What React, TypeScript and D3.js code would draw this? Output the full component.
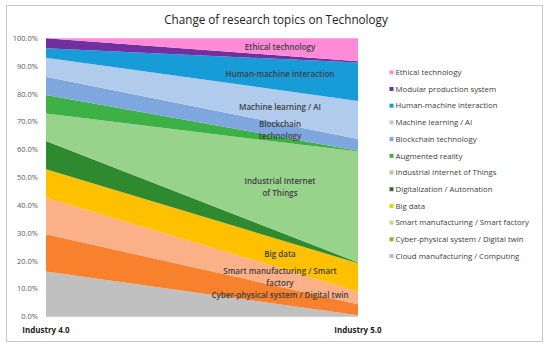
import React from 'react';
import * as d3 from 'd3';

// stages on the x axis
const stages = ['Industry 4.0', 'Industry 5.0'];

// series, bottom of the stack first
const topics = [
  'Cloud manufacturing / Computing',
  'Cyber-physical system / Digital twin',
  'Smart manufacturing / Smart factory',
  'Big data',
  'Digitalization / Automation',
  'Industrial Internet of Things',
  'Augmented reality',
  'Blockchain technology',
  'Machine learning / AI',
  'Human-machine interaction',
  'Modular production system',
  'Ethical technology',
];

// share (%) of each topic, same order as topics
const industry40 = [16.2, 13.4, 13.1, 10.3, 10.1, 9.9, 6.6, 6.6, 6.8, 3.4, 3.6, 0];
const industry50 = [0.5, 4.0, 4.5, 10.2, 0.3, 39.8, 0.3, 4.2, 13.7, 13.8, 0.5, 8.2];

const areaColors = ['#c0c0c0', '#f7812c', '#fbb088', '#ffc000', '#2f8a2f', '#98d38c', '#3db145', '#7ea7de', '#b0cbeb', '#179cd8', '#7030a0', '#ff8ad8'];
const legendColors = ['#bdbdbd', '#a9a52a', '#d8cc8e', '#d4dc00', '#3b6b2b', '#a8d19a', '#3db145', '#7ea7de', '#b0cbeb', '#179cd8', '#7030a0', '#ff8ad8'];

// in-chart labels (series index -> lines)
const areaLabels: [number, string[]][] = [
  [11, ['Ethical technology']],
  [9, ['Human-machine interaction']],
  [8, ['Machine learning / AI']],
  [7, ['Blockchain', 'technology']],
  [5, ['Industrial Internet', 'of Things']],
  [3, ['Big data']],
  [2, ['Smart manufacturing / Smart', 'factory']],
  [1, ['Cyber-physical system / Digital twin']],
];

const yTicks = d3.range(0, 101, 10);

const W = 550, H = 348;
const font = '"Open Sans", "Noto Sans", sans-serif';

export default function App() {
  const x = d3.scalePoint<string>().domain(stages).range([46, 358]);
  const y = d3.scaleLinear().domain([0, 100]).range([316.7, 38.3]);

  const rows = stages.map((s, i) => {
    const r: any = { stage: s };
    topics.forEach((t, k) => (r[t] = i === 0 ? industry40[k] : industry50[k]));
    return r;
  });
  const series = d3.stack<any>().keys(topics)(rows);

  const area = d3.area<any>()
    .x(d => x(d.data.stage)!)
    .y0(d => y(d[0]))
    .y1(d => y(d[1]));

  // labels sit at 3/4 of the way between the two stages
  const t = 0.75;
  const xl = x(stages[0])! + t * (x(stages[1])! - x(stages[0])!);

  return (
    <svg width={W} height={H} style={{ position: 'absolute', left: 0, top: 0, background: '#fff' }}>
      <rect x={6.5} y={5.5} width={536} height={336} fill="#fff" stroke="#c8c8c8" />
      <text x={276} y={24} textAnchor="middle" fontFamily={font} fontSize={11.7} fill="#222">
        Change of research topics on Technology
      </text>

      {series.map((s, i) => (
        <path key={s.key} d={area(s)!} fill={areaColors[i]} />
      ))}

      {yTicks.map(v => (
        <text key={v} x={38} y={y(v)} dy="0.35em" textAnchor="end" fontFamily={font} fontSize={7.5} fill="#595959">
          {v.toFixed(1)}%
        </text>
      ))}

      {stages.map(s => (
        <text key={s} x={x(s)} y={333} textAnchor="middle" fontFamily={font} fontSize={8} fontWeight={700} fill="#222">
          {s}
        </text>
      ))}

      {areaLabels.map(([k, lines]) => {
        const s = series[k];
        const lo = s[0][0] + t * (s[1][0] - s[0][0]);
        const hi = s[0][1] + t * (s[1][1] - s[0][1]);
        const cy = y((lo + hi) / 2);
        return (
          <text key={k} x={xl} textAnchor="middle" fontFamily={font} fontSize={8} fontWeight={600} fill="#404040">
            {lines.map((l, j) => (
              <tspan key={j} x={xl} y={cy + (j - (lines.length - 1) / 2) * 11.5} dy="0.35em">{l}</tspan>
            ))}
          </text>
        );
      })}

      {topics.slice().reverse().map((tp, j) => {
        const i = topics.length - 1 - j;
        const ly = 72.3 + j * 16.7;
        return (
          <g key={tp}>
            <rect x={389.5} y={ly - 2} width={4} height={4} fill={legendColors[i]} />
            <text x={395.5} y={ly} dy="0.35em" fontFamily={font} fontSize={7.8} fill="#404040">{tp}</text>
          </g>
        );
      })}
    </svg>
  );
}
